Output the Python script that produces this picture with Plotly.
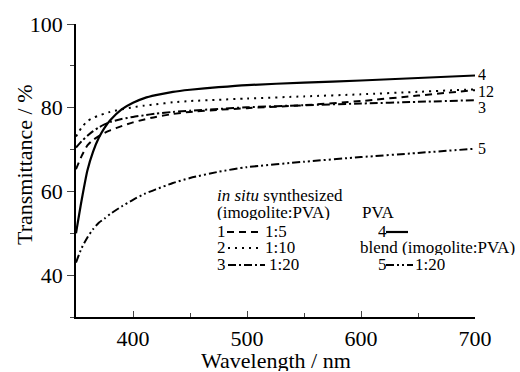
import plotly.graph_objects as go

# ---- data ----
wavelength = [350, 355, 360, 365, 370, 375, 380, 390, 400, 410, 420, 435, 450, 475, 500, 550, 600, 650, 700]
t1_insitu_1_5 = [65.3, 68.5, 71.0, 72.3, 73.2, 74.0, 74.6, 75.6, 76.5, 77.2, 77.8, 78.5, 79.0, 79.5, 79.9, 80.6, 81.6, 82.9, 84.2]
t2_insitu_1_10 = [73.1, 75.3, 76.8, 77.6, 78.1, 78.6, 79.0, 79.6, 80.1, 80.5, 80.8, 81.3, 81.6, 81.9, 82.2, 82.7, 83.2, 83.8, 84.4]
t3_insitu_1_20 = [70.5, 72.0, 73.3, 74.4, 75.3, 76.0, 76.6, 77.3, 77.8, 78.2, 78.6, 79.0, 79.3, 79.7, 80.1, 80.6, 81.0, 81.4, 81.8]
t4_pva = [50.0, 58.0, 65.0, 69.5, 72.8, 75.2, 77.0, 79.6, 81.2, 82.3, 83.0, 83.8, 84.3, 84.9, 85.4, 86.0, 86.5, 87.1, 87.7]
t5_blend_1_20 = [43.0, 46.5, 49.0, 51.0, 52.5, 53.5, 54.6, 56.4, 58.0, 59.4, 60.5, 62.0, 63.2, 64.7, 65.8, 67.1, 68.2, 69.2, 70.2]

x_ticks = [400, 500, 600, 700]
y_ticks = [40, 60, 80, 100]

DASH1 = "7px,5px"
DASH2 = "2px,5px"
DASH3 = "8px,3px,2px,3px"
DASH5 = "8px,3px,2px,3px,2px,3px"

FONT = "Liberation Serif"

series = [
    (t4_pva, "solid", 2.2),
    (t1_insitu_1_5, DASH1, 2.0),
    (t2_insitu_1_10, DASH2, 2.0),
    (t3_insitu_1_20, DASH3, 2.0),
    (t5_blend_1_20, DASH5, 2.0),
]

fig = go.Figure()
for vals, dash, w in series:
    fig.add_trace(go.Scatter(x=wavelength, y=vals, mode="lines",
                             line=dict(color="black", width=w, dash=dash, shape="spline", smoothing=0.6),
                             showlegend=False, hoverinfo="skip"))

# plot-area pixel geometry
L, R, T, B = 76, 475, 24, 317
W, H = 520, 372

def px(x):
    return (x - L) / (R - L)

def py(y):
    return (B - y) / (B - T)

ann = []
def text(x, y, s, size=17, anchor="left", angle=0, h=None):
    d = dict(x=px(x), y=py(y), xref="paper", yref="paper", text=s, showarrow=False,
             xanchor=anchor, yanchor="middle", borderpad=0, textangle=angle,
             font=dict(family=FONT, size=size, color="black"))
    if h is not None:
        d["height"] = h
    ann.append(d)

# axis titles
text(276, 360, "Wavelength / nm", size=22, anchor="center", h=22)
text(24, 165, "Transmittance / %", size=22, anchor="center", angle=-90)

# legend block
LH = 15
text(216, 195, "<i>in situ</i> synthesized", h=LH)
text(216, 212, "(imogolite:PVA)", h=LH)
text(361, 212, "PVA", h=LH)
text(216, 231, "1", h=LH)
text(264, 231, "1:5", h=LH)
text(216, 247, "2", h=LH)
text(264, 247, "1:10", h=LH)
text(216, 264, "3", h=LH)
text(268, 264, "1:20", h=LH)
text(377, 231, "4", h=LH)
text(359, 247, "blend (imogolite:PVA)", h=LH)
text(377, 264, "5", h=LH)
text(414, 264, "1:20", h=LH)

# curve end labels
text(477, 74, "4", size=16, h=14)
text(477, 91, "12", size=16, h=14)
text(477, 107, "3", size=16, h=14)
text(477, 148, "5", size=16, h=14)

shapes = []
def sample(x0, x1, y, dash, w=2.0):
    shapes.append(dict(type="line", xref="paper", yref="paper", x0=px(x0), x1=px(x1), y0=py(y), y1=py(y),
                       line=dict(color="black", width=w, dash=dash)))

sample(227, 261, 232, DASH1)
sample(228, 262, 248, DASH2)
sample(228, 265, 265, DASH3)
sample(386, 408, 232, "solid", 2.2)
sample(386, 413, 265, DASH5)

fig.update_layout(
    width=W, height=H,
    margin=dict(l=L, r=W - R, t=T, b=H - B, autoexpand=False),
    paper_bgcolor="white", plot_bgcolor="white",
    font=dict(family=FONT, color="black"),
    annotations=ann, shapes=shapes,
    xaxis=dict(range=[350, 700], tickvals=x_ticks, ticks="inside", ticklen=6, tickwidth=1.3,
               showline=True, linecolor="black", linewidth=1.5, showgrid=False, zeroline=False,
               automargin=False,
               tickfont=dict(family=FONT, size=22), ticklabelstandoff=1,
               minor=dict(dtick=50, ticks="inside", ticklen=4, tickwidth=1.3, showgrid=False)),
    yaxis=dict(range=[30, 100], tickvals=y_ticks, ticks="outside", ticklen=7, tickwidth=1.3,
               showline=True, linecolor="black", linewidth=1.5, showgrid=False, zeroline=False,
               automargin=False,
               tickfont=dict(family=FONT, size=22),
               minor=dict(dtick=10, ticks="outside", ticklen=4, tickwidth=1.3, showgrid=False)),
)

fig.write_html("out.html")
